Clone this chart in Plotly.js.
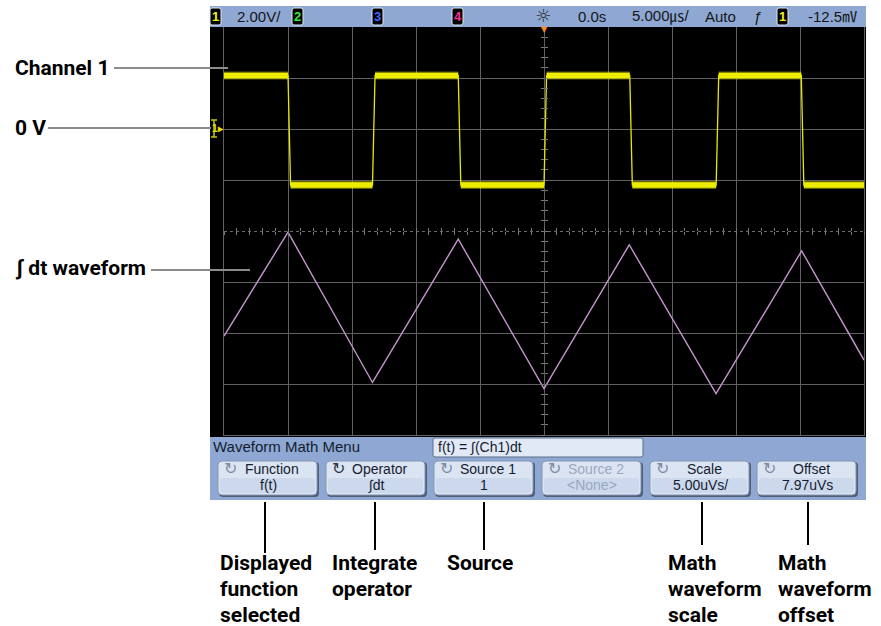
<!DOCTYPE html>
<html>
<head>
<meta charset="utf-8">
<script src="https://cdn.plot.ly/plotly-3.0.1.min.js"></script>
<style>html,body{margin:0;padding:0;background:#fff;}#chart{width:881px;height:626px;}</style>
</head>
<body>
<div id="chart"></div>
<script>
// ---- Data (time in microseconds, Ch1 in volts, math in microvolt-seconds) ----
const ch1EdgeTimes = [-20.0, -13.4, -6.7, 0.0, 6.7, 13.45, 20.1];
const ch1Levels = [2.1, -2.2, 2.1, -2.2, 2.1, -2.2, 2.1, -2.2];
const ch1EdgeDuration = 0.2;
const mathTimes = [-25, -20.0, -13.4, -6.7, 0.0, 6.66, 13.44, 20.13, 25];
const mathValues = [-2.33, 7.85, -6.88, 7.17, -7.48, 6.62, -7.98, 6.02, -4.68];

const timeRange = [-25, 25];
const ch1Range = [-12, 4];          // 2.00 V/div, 0 V two divisions above centre
const ch1GridVolts = [-12, -10, -8, -6, -2, 0, 2, 4];
const ch1CentreVolts = [-4];
const mathScale = 5.0, mathOffset = 7.97;
const mathRange = [mathOffset - 4 * mathScale, mathOffset + 4 * mathScale];

const topBarItems = ["2.00V/", "0.0s", "5.000㎲/", "Auto", "ƒ", "-12.5㎷"];
const channelBadges = ["1", "2", "3", "4", "1"];
const menuTitle = "Waveform Math Menu";
const formulaText = "f(t) = ∫(Ch1)dt";
const buttonTop = ["Function", "Operator", "Source 1", "Source 2", "Scale", "Offset"];
const buttonBottom = ["f(t)", "∫dt", "1", "&lt;None&gt;", "5.00uVs/", "7.97uVs"];
const sideLabels = ["Channel 1", "0 V", "∫ dt waveform"];
const bottomLabels = [["Displayed", "function", "selected"], ["Integrate", "operator"], ["Source"],
                      ["Math", "waveform", "scale"], ["Math", "waveform", "offset"]];

// ---- geometry helpers (pixel -> paper) ----
const PL = 224, PR = 864, PT = 27, PB = 435;
const px = x => (x - PL) / (PR - PL);
const py = y => (PB - y) / (PB - PT);

// ---- build traces ----
const sqX = [timeRange[0]], sqY = [ch1Levels[0]];
ch1EdgeTimes.forEach((t, i) => { sqX.push(t, t + ch1EdgeDuration); sqY.push(ch1Levels[i], ch1Levels[i + 1]); });
sqX.push(timeRange[1]); sqY.push(ch1Levels[ch1Levels.length - 1]);

const bandX = [], bandY = [];
for (let i = 0; i <= ch1EdgeTimes.length; i++) {
  const s = i === 0 ? timeRange[0] : ch1EdgeTimes[i - 1] + ch1EdgeDuration;
  const e = i < ch1EdgeTimes.length ? ch1EdgeTimes[i] : timeRange[1];
  bandX.push(s, e, null); bandY.push(ch1Levels[i], ch1Levels[i], null);
}

const traces = [
  {x: bandX, y: bandY, mode: 'lines', line: {color: 'rgba(220,220,0,0.45)', width: 8}, xaxis: 'x', yaxis: 'y', hoverinfo: 'skip'},
  {x: bandX, y: bandY, mode: 'lines', line: {color: '#f0f000', width: 5.5}, xaxis: 'x', yaxis: 'y', hoverinfo: 'skip'},
  {x: sqX, y: sqY, mode: 'lines', line: {color: '#e8e800', width: 1.3}, xaxis: 'x', yaxis: 'y', hoverinfo: 'skip'},
  {x: mathTimes, y: mathValues, mode: 'lines', line: {color: '#c496cc', width: 1.4}, xaxis: 'x', yaxis: 'y2', hoverinfo: 'skip'},
  {x: [], y: [], xaxis: 'x2', yaxis: 'y', hoverinfo: 'skip'},
  {x: [], y: [], xaxis: 'x3', yaxis: 'y', hoverinfo: 'skip'},
  {x: [], y: [], xaxis: 'x', yaxis: 'y3', hoverinfo: 'skip'},
  {x: [], y: [], xaxis: 'x', yaxis: 'y4', hoverinfo: 'skip'},
  {x: [], y: [], xaxis: 'x', yaxis: 'y5', hoverinfo: 'skip'}
];

const GRID = '#606060';
const tickAxisX = side => ({overlaying: 'x', anchor: 'free', position: 0.5, range: timeRange, dtick: 1, tick0: 0,
  ticks: side, ticklen: 3, tickcolor: '#7a7a7a', tickwidth: 1, showticklabels: false, showgrid: false, zeroline: false, showline: false});
const tickAxisY = side => ({overlaying: 'y', anchor: 'free', position: 0.5, range: ch1Range, dtick: 0.4, tick0: 0,
  ticks: side, ticklen: 3, tickcolor: '#7a7a7a', tickwidth: 1, showticklabels: false, showgrid: false, zeroline: false, showline: false});

// ---- shapes ----
const shapes = [];
const rectPx = (x0, y0, x1, y1, fill, line, lw, layer) => shapes.push({type: 'rect', xref: 'paper', yref: 'paper',
  x0: px(x0), x1: px(x1), y0: py(y1), y1: py(y0), fillcolor: fill, line: {color: line || fill, width: lw || 0}, layer: layer || 'below'});
const roundPx = (x0, y0, x1, y1, r, fill, line, lw, layer) => {
  const P = (x, y) => px(x) + ',' + py(y);
  const d = 'M' + P(x0 + r, y0) + ' L' + P(x1 - r, y0) + ' Q' + P(x1, y0) + ' ' + P(x1, y0 + r) +
            ' L' + P(x1, y1 - r) + ' Q' + P(x1, y1) + ' ' + P(x1 - r, y1) +
            ' L' + P(x0 + r, y1) + ' Q' + P(x0, y1) + ' ' + P(x0, y1 - r) +
            ' L' + P(x0, y0 + r) + ' Q' + P(x0, y0) + ' ' + P(x0 + r, y0) + ' Z';
  shapes.push({type: 'path', xref: 'paper', yref: 'paper', path: d, fillcolor: fill,
    line: {color: line || fill, width: lw || 0}, layer: layer || 'above'});
};
const linePx = (x0, y0, x1, y1, color, w) => shapes.push({type: 'line', xref: 'paper', yref: 'paper',
  x0: px(x0), x1: px(x1), y0: py(y0), y1: py(y1), line: {color: color, width: w}, layer: 'above'});

// screen, top bar, menu band
rectPx(210, 27, 866, 437, '#000000');
rectPx(210, 6, 866, 27, '#8ea8d3', null, 0, 'above');
rectPx(210, 437, 866, 500, '#8ea8d3', null, 0, 'above');
// formula box
roundPx(433, 438, 643, 457, 2, '#e2e9f6', '#5c6c88', 1);
// buttons
const btnLeft = [218, 326, 434, 542, 650, 757];
btnLeft.forEach(x0 => {
  roundPx(x0 + 1, 462, x0 + 101, 497, 4, '#4f5e78');
  roundPx(x0, 461, x0 + 99, 495, 4, '#dbe4f3', '#8796b0', 1);
  roundPx(x0 + 2, 478, x0 + 97, 493, 3, '#ccd8ec');
});
// channel badges
const badgeLeft = [210, 292, 372, 452, 777];
badgeLeft.forEach(x0 => roundPx(x0, 8, x0 + 11, 25, 2, '#000000', '#dfe6f2', 1));
// ground marker for channel 1
linePx(214, 120, 214, 137, '#c8c800', 1.5);
linePx(211, 120, 217, 120, '#c8c800', 1.5);
linePx(211, 137, 217, 137, '#c8c800', 1.5);
// leader lines
linePx(114, 68, 228, 68, '#8c8c8c', 2);
linePx(48, 128, 211, 128, '#8c8c8c', 2);
linePx(151, 270, 250, 270, '#8c8c8c', 2);
[[265, 553], [375, 550], [484, 550], [702, 545], [808, 545]].forEach(v => linePx(v[0], 502, v[0], v[1], '#000000', 2));

// ---- annotations ----
const anns = [];
const ann = (text, x, y, font, xanchor) => anns.push({xref: 'paper', yref: 'paper', x: px(x), y: py(y), text: text,
  showarrow: false, xanchor: xanchor || 'left', yanchor: 'middle', font: font});
const UI = 'Liberation Sans, Arial, sans-serif';
const CJK = 'Liberation Sans, Noto Sans CJK JP, sans-serif';
const BOLD = 'Roboto, Liberation Sans, sans-serif';
const barFont = {family: CJK, size: 15, color: '#151515'};

// top bar
const barX = [235, 576, 630, 703, 752, 806];
topBarItems.forEach((t, i) => ann(t, barX[i], 16, barFont));
ann('☼', 543, 15, {family: 'DejaVu Sans', size: 18, color: '#2a2a2a'}, 'center');
const badgeColors = ['#f4f400', '#33ee33', '#3f66ff', '#ff2a9a', '#f4f400'];
channelBadges.forEach((t, i) => ann('<b>' + t + '</b>', badgeLeft[i] + 5.5, 16.5,
  {family: UI, size: 13, color: badgeColors[i]}, 'center'));
ann('▼', 544, 30, {family: 'DejaVu Sans', size: 8, color: '#ff8c1a'}, 'center');
ann('<b>1▸</b>', 218, 128, {family: UI, size: 10, color: '#e0e000'}, 'center');

// menu
ann(menuTitle, 211, 447, {family: UI, size: 15, color: '#141c30'});
ann(formulaText, 436, 447, {family: UI, size: 14, color: '#141c30'});
buttonTop.forEach((t, i) => {
  const c = btnLeft[i] + 50;
  const col = i === 3 ? '#9aa7bd' : '#141c30';
  ann(t, c + 4, 469, {family: UI, size: 14, color: col}, 'center');
  ann(buttonBottom[i], c, 485, {family: UI, size: 14, color: col}, 'center');
  ann('↻', btnLeft[i] + 12, 469, {family: 'DejaVu Sans', size: 16, color: i === 1 ? '#2a3347' : '#7c8aa3'}, 'center');
});

// callouts
const labelFont = {family: BOLD, size: 21, color: '#000000'};
ann('<b>' + sideLabels[0] + '</b>', 13, 68, labelFont);
ann('<b>' + sideLabels[1] + '</b>', 13, 128, labelFont);
ann('<b>' + sideLabels[2] + '</b>', 13, 268, labelFont);
const bottomX = [218, 330, 445, 666, 776];
bottomLabels.forEach((lines, i) => lines.forEach((t, j) => ann('<b>' + t + '</b>', bottomX[i], 563 + 26 * j, labelFont)));

const layout = {
  width: 881, height: 626,
  margin: {l: PL, r: 881 - PR, t: PT, b: 626 - PB, pad: 0},
  paper_bgcolor: '#ffffff', plot_bgcolor: '#000000',
  showlegend: false, hovermode: false,
  xaxis: {range: timeRange, dtick: 5, tick0: 0, showgrid: true, gridcolor: GRID, gridwidth: 1, zeroline: false,
          showline: true, linecolor: GRID, mirror: true, showticklabels: false, ticks: ''},
  yaxis: {range: ch1Range, tickmode: 'array', tickvals: ch1GridVolts, showgrid: true, gridcolor: GRID, gridwidth: 1, zeroline: false,
          showline: true, linecolor: GRID, mirror: true, showticklabels: false, ticks: ''},
  yaxis2: {overlaying: 'y', range: mathRange, showgrid: false, zeroline: false, showticklabels: false, ticks: ''},
  yaxis5: {overlaying: 'y', range: ch1Range, tickmode: 'array', tickvals: ch1CentreVolts, showgrid: true, gridcolor: '#6a6a6a',
           griddash: 'dot', gridwidth: 1, zeroline: false, showticklabels: false, ticks: '', showline: false},
  xaxis2: tickAxisX('outside'), xaxis3: tickAxisX('inside'),
  yaxis3: tickAxisY('outside'), yaxis4: tickAxisY('inside'),
  shapes: shapes, annotations: anns
};

Plotly.newPlot('chart', traces, layout, {displayModeBar: false, staticPlot: true});
</script>
</body>
</html>
